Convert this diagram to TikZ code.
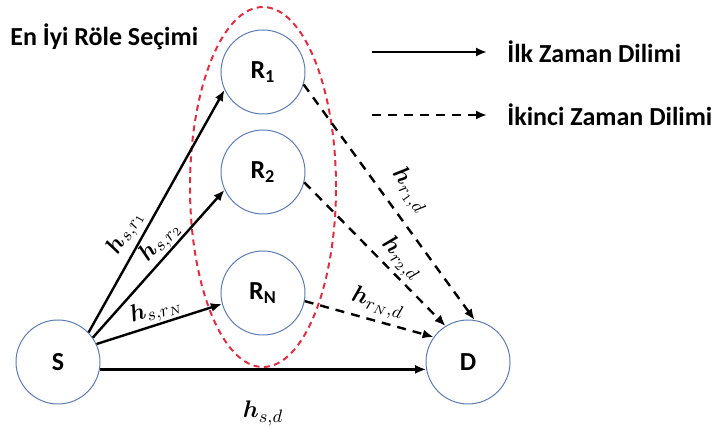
\documentclass[tikz,border=0pt]{standalone}
\usepackage{fontspec}
\setmainfont{Carlito}
\usepackage{bm}
\usetikzlibrary{arrows.meta}

\definecolor{circblue}{RGB}{95,125,180}
\definecolor{selred}{RGB}{225,45,65}

\begin{document}
\begin{tikzpicture}[x=0.5pt, y=0.5pt,
	station/.style={circle, draw=circblue, line width=0.5pt, fill=white, minimum size=42pt, inner sep=0pt, font=\fontsize{13}{15}\selectfont\bfseries},
	slotone/.style={line width=1.2pt, -{Latex[length=5.5pt,width=4.5pt]}},
	slottwo/.style={slotone, dash pattern=on 4.5pt off 3.5pt},
	chan/.style={font=\fontsize{13}{15}\selectfont, sloped, above, inner sep=2pt},
	legendtext/.style={font=\fontsize{13}{15}\selectfont\bfseries, anchor=west, inner sep=0pt}]

	\useasboundingbox (0,0) rectangle (721,427);

	% best relay selection
	\draw[selred, line width=1pt, dash pattern=on 3pt off 2.2pt] (263,240) ellipse [x radius=73, y radius=180];
	\node[legendtext] (title) at (10,390) {En İyi Röle Seçimi};

	\node[station] (S)  at (58,65)   {S};
	\node[station] (R1) at (263,355) {R\textsubscript{1}};
	\node[station] (R2) at (263,255) {R\textsubscript{2}};
	\node[station] (RN) at (263,134) {R\textsubscript{N}};
	\node[station] (D)  at (468,65)  {D};

	% first time slot
	\draw[slotone] (S.44) -- (R1.205) node[chan, pos=0.38] {$\bm{h}_{s,r_1}$};
	\draw[slotone] (S.35) -- (R2.205) node[chan, pos=0.59, inner sep=0.5pt] {$\bm{h}_{s,r_2}$};
	\draw[slotone] (S.25) -- (RN.195) node[chan, pos=0.51, inner sep=0.5pt] {$\bm{h}_{s,r_N}$};
	\draw[slotone] (S.-10) -- (D.190) node[pos=0.5, below=12pt, font=\fontsize{13}{15}\selectfont] {$\bm{h}_{s,d}$};

	% second time slot
	\draw[slottwo] (R1.-17) -- (D.81) node[chan, pos=0.51, above=3pt] {$\bm{h}_{r_1,d}$};
	\draw[slottwo] (R2.-14) -- (D.122) node[chan, pos=0.61, inner sep=1pt] {$\bm{h}_{r_2,d}$};
	\draw[slottwo] (RN.-11) -- (D.144) node[chan, pos=0.53] {$\bm{h}_{r_N,d}$};

	% legend
	\coordinate (l1a) at (372,375);
	\coordinate (l1b) at (487,375);
	\coordinate (l2a) at (372,312);
	\coordinate (l2b) at (487,312);
	\draw[slotone] (l1a) -- (l1b);
	\draw[slottwo] (l2a) -- (l2b);
	\node[legendtext] (l1) at (507,375) {İlk Zaman Dilimi};
	\node[legendtext] (l2) at (507,312) {İkinci Zaman Dilimi};
\end{tikzpicture}
\end{document}
